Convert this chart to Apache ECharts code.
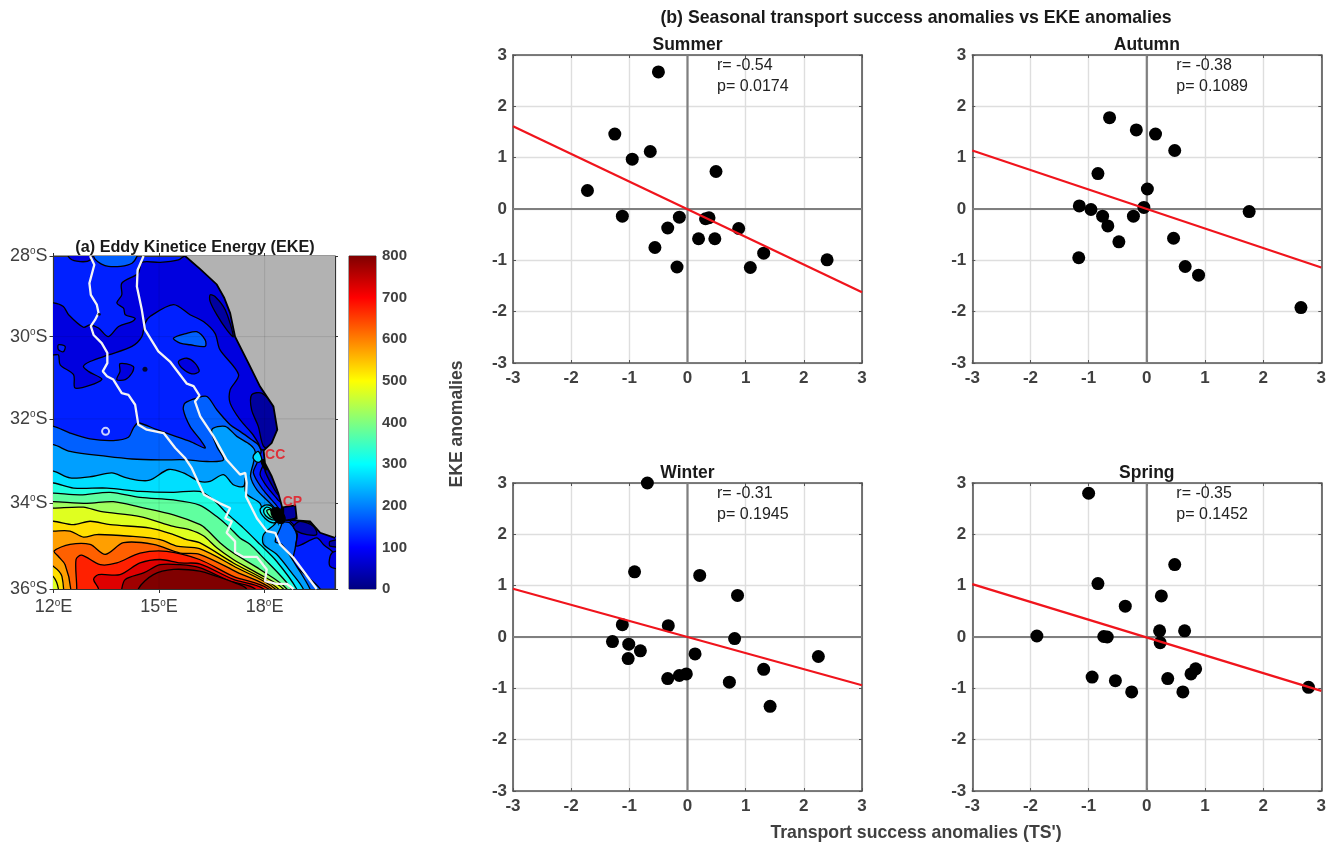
<!DOCTYPE html>
<html><head><meta charset="utf-8"><style>html,body{margin:0;padding:0;background:#fff}#c{width:1332px;height:845px}</style>
<script src="https://cdn.jsdelivr.net/npm/echarts@6/dist/echarts.min.js"></script></head><body><div id="c"></div>
<script>
// ---------- scatter data (x = TS', y = EKE anomalies)
const summerX=[-0.50,-1.25,-0.95,-0.64,-1.72,0.49,-1.12,-0.14,-0.34,-0.56,-0.18,0.19,0.47,0.31,0.37,0.88,1.31,1.08,2.40];
const summerY=[2.67,1.46,0.97,1.12,0.36,0.73,-0.14,-0.16,-0.37,-0.75,-1.13,-0.58,-0.58,-0.19,-0.17,-0.38,-0.86,-1.14,-0.99];
const autumnX=[-0.64,-0.18,0.15,0.48,-0.84,0.01,-1.16,-0.96,-0.05,-0.76,-0.67,-0.23,-0.48,-1.17,0.46,0.66,0.89,1.76,2.65];
const autumnY=[1.78,1.54,1.46,1.14,0.69,0.39,0.06,-0.01,0.03,-0.14,-0.33,-0.14,-0.64,-0.95,-0.57,-1.12,-1.29,-0.05,-1.92];
const winterX=[-0.69,-0.91,0.21,0.86,-1.12,-0.33,0.81,-1.29,-1.01,-0.81,-1.02,0.13,-0.02,-0.14,-0.34,0.72,1.31,1.42,2.25];
const winterY=[3.0,1.27,1.20,0.81,0.24,0.22,-0.03,-0.09,-0.14,-0.27,-0.42,-0.33,-0.72,-0.75,-0.81,-0.88,-0.63,-1.35,-0.38];
const springX=[-1.00,0.48,-0.84,0.25,-0.37,0.22,0.65,-1.89,-0.74,-0.68,0.23,0.84,0.76,0.36,0.62,-0.94,-0.54,-0.26,2.78];
const springY=[2.80,1.41,1.04,0.80,0.60,0.12,0.12,0.02,0.01,0.0,-0.11,-0.62,-0.72,-0.81,-1.07,-0.78,-0.85,-1.07,-0.98];
const fitEnds={Summer:[1.61,-1.62],Autumn:[1.14,-1.14],Winter:[0.94,-0.94],Spring:[1.03,-1.05]};
const stats={Summer:['r= -0.54','p= 0.0174'],Autumn:['r= -0.38','p= 0.1089'],Winter:['r= -0.31','p= 0.1945'],Spring:['r= -0.35','p= 0.1452']};
const anomalyTicks=[-3,-2,-1,0,1,2,3];
// ---------- map contours as [lon E, lat S]; each level polygon encloses EKE above the level
const lvl150=[[12,32.18],[12.47,32.34],[13.04,32.48],[13.70,32.52],[14.13,32.44],[14.27,32.22],[14.41,32.10],[14.94,32.26],[15.41,32.40],[15.88,32.54],[16.31,32.70],[16.17,32.50],[15.88,32.18],[15.69,31.78],[15.74,31.62],[16.07,31.50],[16.36,31.46],[16.64,31.78],[17.02,32.14],[17.30,32.30],[17.63,32.50],[17.82,32.62],[17.90,32.78],[17.78,33.06],[17.68,33.29],[17.92,33.65],[18.20,33.93],[18.39,34.12],[18.53,34.43],[18.72,34.47],[18.91,34.74],[18.87,35.05],[18.82,35.40],[19.58,36]];
const lvl200=[[12,32.62],[12.47,32.78],[13.52,32.90],[14.23,32.96],[15.03,32.98],[15.79,32.98],[16.36,33.02],[16.83,32.98],[16.64,32.66],[16.50,32.26],[16.88,32.18],[17.21,32.42],[17.59,32.62],[17.73,32.78],[17.68,33.06],[17.60,33.37],[17.78,33.69],[18.16,34.01],[18.39,34.24],[18.49,34.47],[18.30,34.90],[18.49,34.97],[18.91,35.48],[19.29,36]];
const lvl250=[[12,33.25],[12.47,33.41],[13.14,33.37],[13.66,33.29],[14.08,33.41],[14.70,33.47],[15.27,33.21],[15.69,33.29],[16.15,33.49],[16.45,33.49],[16.83,33.33],[17.11,33.57],[17.40,33.61],[17.45,33.41],[17.47,33.77],[17.87,34.01],[17.97,34.24],[18.34,34.43],[17.97,34.74],[17.97,34.97],[18.34,35.20],[18.77,35.63],[19.10,36]];
const lvl300=[[12,33.53],[12.57,33.65],[13.52,33.65],[14.46,33.73],[15.41,33.75],[16.15,33.73],[16.55,33.93],[16.92,34.24],[17.40,34.59],[17.87,34.97],[18.34,35.36],[18.91,36]];
const lvl350=[[12,33.77],[12.76,33.81],[13.61,33.75],[14.46,33.87],[15.41,33.93],[16.15,34.05],[16.64,34.32],[17.02,34.59],[17.30,34.82],[17.59,34.97],[17.87,35.20],[18.77,36]];
const lvl400=[[12,33.97],[12.95,34.01],[13.70,33.97],[14.46,34.10],[15.41,34.28],[16.17,34.51],[16.36,34.63],[16.73,34.93],[17.11,35.17],[17.87,35.55],[18.63,36]];
const lvl450=[[12,34.12],[12.85,34.10],[13.33,34.20],[14.46,34.32],[15.41,34.55],[15.88,34.63],[16.26,34.77],[16.64,35.05],[17.11,35.32],[17.78,35.63],[18.53,36]];
const lvl500=[[12,34.43],[12.57,34.51],[13.04,34.43],[13.61,34.51],[14.75,34.59],[15.41,34.74],[15.79,34.86],[16.15,34.93],[17.11,35.40],[18.39,36]];
const lvl550=[[12,34.66],[12.47,34.66],[12.85,34.80],[13.23,34.74],[14.18,34.78],[15.03,34.86],[15.50,35.01],[16.15,35.07],[17.21,35.51],[18.30,36]];
const lvl600=[[12.49,36],[12.33,35.44],[12.14,35.25],[12.02,35.12],[12.47,34.97],[13.04,34.97],[13.47,35.20],[13.99,34.93],[14.84,34.97],[15.60,35.17],[16.15,35.20],[17.21,35.61],[18.20,36]];
const lvl650=[[12.66,36],[12.64,35.32],[12.80,35.22],[13.33,35.44],[13.80,35.40],[14.46,35.17],[15.22,35.13],[16.15,35.32],[17.11,35.71],[18.11,36]];
const lvl700=[[13.28,36],[13.14,35.78],[13.28,35.67],[13.89,35.67],[14.46,35.40],[15.03,35.32],[15.60,35.40],[16.15,35.42],[17.11,35.78],[17.97,36]];
const lvl750=[[13.94,36],[14.04,35.78],[14.56,35.63],[15.03,35.44],[15.60,35.44],[16.15,35.51],[17.02,35.82],[17.73,36]];
const lvl800=[[14.41,36],[14.84,35.67],[15.41,35.55],[16.15,35.59],[16.64,35.71],[17.16,35.86],[17.49,36]];
const cornerA=[[11.8,35.45],[12,35.48],[12.24,35.71],[12.24,36.4],[11.8,36.4]];
const cornerB=[[11.8,35.68],[12,35.72],[12.14,36],[12.14,36.4],[11.8,36.4]];
const low100=[[12,29.17],[12.28,29.26],[12.43,29.46],[12.85,29.77],[13.04,29.71],[13.28,29.79],[13.56,30.0],[13.85,29.75],[14.23,29.63],[14.32,29.55],[14.04,29.46],[13.99,29.30],[13.80,29.17],[13.94,28.97],[13.94,28.68],[14.41,28.43],[14.51,28.16],[15.03,28.16],[15.55,28.10],[15.74,28],[18.06,28],[19,32.74],[17.92,32.74],[17.82,32.58],[17.63,32.34],[17.30,32.02],[17.02,31.62],[17.02,31.30],[17.26,30.93],[16.73,30.32],[16.59,29.92],[16.26,29.63],[15.88,29.46],[15.41,29.21],[14.75,29.50],[14.60,29.67],[14.51,30.0],[14.23,30.24],[13.56,30.45],[13.04,30.61],[12.85,30.73],[12.99,30.85],[13.37,31.05],[12.62,31.26],[12.57,30.93],[12.19,30.69],[12.14,30.45],[12,30.45],[11.6,30.45],[11.6,29.17]];
const low100Blob1=[[15.55,30.61],[15.79,30.53],[16.02,30.65],[16.14,30.85],[15.93,30.91],[15.65,30.77]];
const low100Blob2=[[13.89,30.66],[14.27,30.73],[14.23,30.89],[14.04,31.05],[13.80,31.05],[13.89,30.85]];
const low100Top=[[12.43,28.02],[12.66,28.13],[13.04,28.10],[13.1,27.8],[12.4,27.8]];
const low100Shore=[[17.92,33.18],[17.87,33.33],[18.06,33.61],[18.30,33.85],[18.44,33.97],[18.49,33.77],[18.20,33.29],[18.01,33.06]];
const low100East=[[18.91,35.01],[19.48,34.82],[19.67,34.97],[19.86,35.09],[20,35.17],[20.3,35.2],[20.3,34.75],[20,34.78],[19.58,34.63],[19.20,34.43],[18.72,34.41],[18.82,34.51],[18.93,34.74]];
const low100Edge=[[19.91,35.17],[20.3,35.13],[20.3,35.51],[19.86,35.48]];
const low50Upper=[[16.45,28.97],[16.59,29.01],[16.88,29.34],[17.11,30.0],[16.92,29.83],[16.64,29.46],[16.45,29.13]];
const low50CC=[[17.63,31.42],[17.92,31.38],[18.25,31.70],[18.36,32.26],[18.20,32.70],[17.97,32.66],[17.82,32.18],[17.63,31.78]];
const low50Shore=[[18.01,33.24],[18.20,33.57],[18.39,33.81],[18.42,33.65],[18.20,33.33],[18.06,33.18]];
const low50Bay=[[18.49,34.10],[18.87,34.06],[18.89,34.34],[18.63,34.41],[18.49,34.32]];
const low50East=[[18.82,34.55],[19.01,34.43],[19.39,34.55],[19.48,34.74],[19.20,34.74],[18.91,34.66]];
const low50Edge=[[19.86,34.90],[20.3,34.86],[20.3,35.01],[19.86,35.01]];
const islandLeft=[[12.14,30.20],[12.33,30.24],[12.28,30.37],[12.14,30.32]];
const blobTop=[[13.15,27.8],[14.4,27.8],[14.23,28.18],[13.56,28.26],[13.18,28.08]];
const blobMid=[[15.41,30.04],[15.79,29.92],[16.07,29.88],[16.31,30.08],[16.31,30.24],[15.88,30.20],[15.60,30.16]];
const eddyCC=[[17.68,32.88],[17.82,32.78],[17.92,32.98],[17.82,33.04],[17.70,32.98]];
const eddyCPouter=[[17.87,34.16],[18.01,34.05],[18.20,34.08],[18.39,34.39],[18.25,34.47],[18.01,34.36]];
const eddyCPmid=[[17.97,34.18],[18.06,34.10],[18.20,34.16],[18.32,34.38],[18.20,34.39],[18.03,34.30]];
const eddyCPinner=[[18.06,34.18],[18.16,34.16],[18.27,34.36],[18.16,34.32]];
const blackTip=[[18.20,34.15],[18.39,34.12],[18.58,34.34],[18.53,34.47],[18.36,34.46],[18.20,34.28]];
const blackCC=[[17.90,33.0],[18.01,32.98],[18.13,33.18],[18.01,33.21]];
const coast=[[15.74,28],[16.17,28.33],[16.64,28.71],[16.85,29.04],[17.02,29.42],[17.16,30.0],[17.54,30.65],[17.87,31.22],[18.25,31.70],[18.36,32.26],[18.20,32.58],[17.97,32.76],[18.01,33.06],[18.20,33.37],[18.39,33.77],[18.49,34.08],[18.50,34.22],[18.44,34.42],[18.53,34.30],[18.53,34.10],[18.87,34.06],[18.91,34.36],[18.68,34.40],[19.29,34.43],[19.58,34.70],[20,34.82]];
const landCorners=[[20,28]];
const whiteWest=[[13.04,28],[13.16,28.22],[13.02,28.68],[13.06,28.97],[13.23,29.21],[13.28,29.42],[13.18,29.59],[13.06,29.74],[13.14,29.96],[13.37,30.16],[13.53,30.40],[13.53,30.65],[13.40,30.85],[13.52,30.97],[13.70,31.05],[13.94,31.38],[14.13,31.42],[14.32,31.66],[14.41,32.14],[14.65,32.26],[15.13,32.34],[15.46,32.70],[15.74,32.94],[15.93,33.18],[16.28,33.81],[16.73,34.01],[17.02,34.12],[16.88,34.36],[17.07,34.43],[16.92,34.70],[17.16,34.90],[17.16,35.15],[17.40,35.26],[17.78,35.26],[18.06,35.55],[18.01,35.82],[18.34,35.88],[18.63,35.88],[18.82,36]];
const whiteEast=[[14.56,28],[14.39,28.35],[14.37,28.76],[14.51,29.34],[14.60,29.83],[14.98,30.36],[15.31,30.61],[15.79,31.15],[15.98,31.21],[16.15,31.44],[16.02,31.58],[16.17,31.94],[16.55,32.42],[16.92,32.98],[17.30,33.33],[17.45,33.29],[17.49,33.53],[17.47,33.85],[17.78,34.36],[18.06,34.66],[18.30,34.70],[18.44,34.97],[18.82,35.28],[19.48,36]];
const blackDots=[[14.6,30.8,5],[13.3,29.45,3]];
const whiteRing=[[13.48,32.3]];
const placeNames=[['CC',18.30,32.88],['CP',18.79,33.98]];
const lonTicks=[12,15,18];
const latTicks=[28,30,32,34,36];
const mapBounds={west:12,east:20,north:28,south:36};
const eke=[0,100,200,300,400,500,600,700,800];
// jet band colours, named by lower contour value
const b0='#00009f',b50='#0000df',b100='#0020ff',b150='#0060ff',b200='#009fff',b250='#00dfff',b300='#20ffdf',b350='#60ff9f',b400='#9fff60',b450='#dfff20',b500='#ffdf00',b550='#ff9f00',b600='#ff6000',b650='#ff2000',b700='#df0000',b750='#9f0000',b800='#800000';
const jetStops=[[0,'#800000'],[0.125,'#ff0000'],[0.375,'#ffff00'],[0.625,'#00ffff'],[0.875,'#0000ff'],[1,'#000080']];

const FONT='"Liberation Sans", Arial, sans-serif';
const INK='#404040';
const merc=lat=>Math.log(Math.tan(Math.PI/4+lat*Math.PI/360));
// carry a contour's two ends beyond the frame and close it there, so the filled area reaches the edges
const below=c=>{const a=c[0],b=c[c.length-1];
 return (a[0]===12?[[11.6,a[1]]]:[[a[0]-0.05,36.5]]).concat(c,[[b[0]+0.2,36.5]],a[0]===12?[[11.6,36.5]]:[]);};
const layers=[
 [below(lvl150),b150],[below(lvl200),b200],[below(lvl250),b250],[below(lvl300),b300],[below(lvl350),b350],[below(lvl400),b400],[below(lvl450),b450],[below(lvl500),b500],[below(lvl550),b550],[cornerA,b500],[cornerB,b450],[below(lvl600),b600],[below(lvl650),b650],[below(lvl700),b700],[below(lvl750),b750],[below(lvl800),b800],
 [low100,b50],[islandLeft,b100],[blobTop,b150],[blobMid,b150],[low100Blob1,b50],[low100Blob2,b50],[low100Top,b50],
 [low100Shore,b50],[low100East,b50],[low100Edge,b50],[low50Upper,b0],[low50CC,b0],[low50Shore,b0],[low50Bay,b0],[low50East,b0],[low50Edge,b0],
 [eddyCC,b250],[eddyCPouter,b250],[eddyCPmid,b300],[eddyCPinner,b350],[blackTip,'#000'],[blackCC,'#000']
];
const toPts=(api,pts)=>pts.map(p=>api.coord([p[0],merc(p[1])]));

const grids=[],xAxes=[],yAxes=[],series=[],titles=[];
// ---- map panel
grids.push({left:53.5,top:256,width:281.5,height:333,show:true,backgroundColor:b100,borderColor:'#333',borderWidth:1});
const mapSide={show:true,lineStyle:{color:'#333',width:1.2}};
const richTick={a:{fontFamily:FONT,fontSize:18,color:INK},o:{fontFamily:FONT,fontSize:10,color:INK,padding:[0,0,9,0]}};
xAxes.push({gridIndex:0,type:'value',min:mapBounds.west,max:mapBounds.east,axisLine:{...mapSide,onZero:false},splitLine:{show:false},
 axisTick:{length:4,lineStyle:{color:'#333'},customValues:lonTicks},
 axisLabel:{customValues:lonTicks,margin:9,formatter:v=>'{a|'+v+'}{o|o}{a|E}',rich:richTick}});
xAxes.push({gridIndex:0,type:'value',position:'top',min:mapBounds.west,max:mapBounds.east,axisLine:{...mapSide,onZero:false},splitLine:{show:false},axisLabel:{show:false},axisTick:{length:3,lineStyle:{color:'#333'},customValues:lonTicks}});
const latVals=latTicks.map(merc);
const latLabel=v=>{let i=latVals.findIndex(t=>Math.abs(t-v)<1e-6);return '{a|'+latTicks[i]+'}{o|o}{a|S}';};
yAxes.push({gridIndex:0,type:'value',inverse:true,min:merc(mapBounds.north),max:merc(mapBounds.south),axisLine:{...mapSide,onZero:false},splitLine:{show:false},
 axisTick:{length:4,lineStyle:{color:'#333'},customValues:latVals},
 axisLabel:{customValues:latVals,margin:6,formatter:latLabel,rich:richTick}});
yAxes.push({gridIndex:0,type:'value',position:'right',inverse:true,min:merc(mapBounds.north),max:merc(mapBounds.south),axisLine:{...mapSide,onZero:false},splitLine:{show:false},axisLabel:{show:false},axisTick:{length:3,lineStyle:{color:'#333'},customValues:latVals}});
series.push({type:'custom',xAxisIndex:0,yAxisIndex:0,clip:true,silent:true,z:2,data:layers.map((l,i)=>[i]),encode:{x:[],y:[]},
 renderItem:(p,api)=>{const l=layers[p.dataIndex];
  return {type:'polygon',shape:{points:toPts(api,l[0]),smooth:0.3},style:{fill:l[1],stroke:'#000',lineWidth:1.3},silent:true};}});
series.push({type:'custom',xAxisIndex:0,yAxisIndex:0,clip:true,silent:true,z:3,data:[[0]],encode:{x:[],y:[]},
 renderItem:(p,api)=>({type:'polygon',shape:{points:toPts(api,coast.concat(landCorners))},style:{fill:'#b2b2b2'},silent:true})});
series.push({type:'custom',xAxisIndex:0,yAxisIndex:0,clip:true,silent:true,z:4,data:[[0]],encode:{x:[],y:[]},
 renderItem:(p,api)=>({type:'polyline',shape:{points:toPts(api,coast)},style:{fill:null,stroke:'#000',lineWidth:1.8},silent:true})});
const lineOn=(pts,color,w,z)=>({type:'line',xAxisIndex:0,yAxisIndex:0,z,silent:true,showSymbol:false,animation:false,clip:true,data:pts.map(p=>[p[0],merc(p[1])]),lineStyle:{color,width:w}});
lonTicks.slice(1).forEach(v=>series.push(lineOn([[v,28],[v,36]],'rgba(0,0,0,0.10)',1,5)));
latTicks.slice(1,4).forEach(v=>series.push(lineOn([[12,v],[20,v]],'rgba(0,0,0,0.10)',1,5)));
series.push(lineOn(whiteWest,'#f4f4f4',2.3,6));
series.push(lineOn(whiteEast,'#f4f4f4',2.3,6));
series.push({type:'scatter',xAxisIndex:0,yAxisIndex:0,z:6,silent:true,symbolSize:d=>d[2],data:blackDots.map(d=>[d[0],merc(d[1]),d[2]]),itemStyle:{color:'#000'}});
series.push({type:'scatter',xAxisIndex:0,yAxisIndex:0,z:6,silent:true,symbolSize:7,data:whiteRing.map(d=>[d[0],merc(d[1])]),itemStyle:{color:'rgba(0,0,0,0)',borderColor:'#fff',borderWidth:2}});
series.push({type:'scatter',xAxisIndex:0,yAxisIndex:0,z:7,silent:true,symbolSize:0,data:placeNames.map(d=>({name:d[0],value:[d[1],merc(d[2])]})),
 label:{show:true,position:'inside',formatter:'{b}',color:'#e8101c',fontFamily:FONT,fontWeight:'bold',fontSize:14}});
// ---- colour bar
grids.push({left:349,top:256,width:27,height:333,show:true,borderColor:'#444',borderWidth:1});
xAxes.push({gridIndex:1,type:'category',data:['EKE'],show:false});
yAxes.push({gridIndex:1,type:'value',position:'right',min:eke[0],max:eke[eke.length-1],interval:100,axisLine:{show:false},axisTick:{show:false},splitLine:{show:false},
 axisLabel:{margin:6,fontFamily:FONT,fontSize:15,fontWeight:'bold',color:INK}});
series.push({type:'bar',xAxisIndex:2,yAxisIndex:2,barWidth:'100%',silent:true,animation:false,data:[eke[eke.length-1]],
 itemStyle:{color:new echarts.graphic.LinearGradient(0,0,0,1,jetStops.map(s=>({offset:s[0],color:s[1]})))}});
// ---- scatter panels
const panels=[['Summer',summerX,summerY,513,55],['Autumn',autumnX,autumnY,972.3,55],['Winter',winterX,winterY,513,483],['Spring',springX,springY,972.3,483]];
const PW=349,PH=308;
panels.forEach(([name,xs,ys,left,top])=>{
 const g=grids.length; grids.push({left,top,width:PW,height:PH});
 const axisL={show:true,onZero:false,lineStyle:{color:'#555',width:1.6}};
 const tick=()=>({show:true,inside:true,length:3,lineStyle:{color:'#555'}});
 const sp={show:true,lineStyle:{color:'#dedede',width:1.4}};
 const lab={fontFamily:FONT,fontSize:17,fontWeight:'bold',color:INK,showMinLabel:true,showMaxLabel:true};
 const xi=xAxes.length, yi=yAxes.length;
 xAxes.push({gridIndex:g,type:'value',min:-3,max:3,interval:1,axisLine:axisL,axisTick:tick(),splitLine:sp,axisLabel:{...lab,margin:7}});
 xAxes.push({gridIndex:g,type:'value',position:'top',min:-3,max:3,interval:1,axisLine:axisL,axisTick:tick(),splitLine:{show:false},axisLabel:{show:false}});
 yAxes.push({gridIndex:g,type:'value',min:-3,max:3,interval:1,axisLine:axisL,axisTick:tick(),splitLine:sp,axisLabel:{...lab,margin:6}});
 yAxes.push({gridIndex:g,type:'value',position:'right',min:-3,max:3,interval:1,axisLine:axisL,axisTick:tick(),splitLine:{show:false},axisLabel:{show:false}});
 const ends=anomalyTicks[0], lastT=anomalyTicks[anomalyTicks.length-1];
 const plain=(data,color,width,z)=>({type:'line',xAxisIndex:xi,yAxisIndex:yi,data,showSymbol:false,silent:true,animation:false,z,lineStyle:{color,width}});
 series.push(plain([[ends,0],[lastT,0]],'#7f7f7f',2.2,2));
 series.push(plain([[0,ends],[0,lastT]],'#7f7f7f',2.2,2));
 series.push({type:'scatter',xAxisIndex:xi,yAxisIndex:yi,clip:false,silent:true,z:3,symbolSize:13,data:xs.map((x,i)=>[x,ys[i]]),itemStyle:{color:'#000',opacity:1}});
 series.push(plain([[ends,fitEnds[name][0]],[lastT,fitEnds[name][1]]],'#f0141c',2.2,4));
 titles.push({text:name,left:left+PW/2,top:top-19,padding:0,textAlign:'center',textStyle:{fontFamily:FONT,fontSize:17.5,fontWeight:'bold',color:'#1a1a1a'}});
 titles.push({text:stats[name][0],left:left+204,top:top+3,padding:0,textStyle:{fontFamily:FONT,fontSize:16,fontWeight:'normal',color:'#222'}});
 titles.push({text:stats[name][1],left:left+204,top:top+24,padding:0,textStyle:{fontFamily:FONT,fontSize:16,fontWeight:'normal',color:'#222'}});
});
titles.push({text:'(b) Seasonal transport success anomalies vs EKE anomalies',left:916,top:9,padding:0,textAlign:'center',textStyle:{fontFamily:FONT,fontSize:17.7,fontWeight:'bold',color:'#1a1a1a'}});
titles.push({text:"Transport success anomalies (TS')",left:916,top:824,padding:0,textAlign:'center',textStyle:{fontFamily:FONT,fontSize:17.7,fontWeight:'bold',color:INK}});
titles.push({text:'(a) Eddy Kinetice Energy (EKE)',left:195,top:240,padding:0,textAlign:'center',textStyle:{fontFamily:FONT,fontSize:16.2,fontWeight:'bold',color:'#1a1a1a'}});

const chart=echarts.init(document.getElementById('c'),null,{renderer:'canvas'});
chart.setOption({animation:false,backgroundColor:'#fff',title:titles,grid:grids,xAxis:xAxes,yAxis:yAxes,series,
 graphic:[{type:'text',rotation:Math.PI/2,x:457,y:424,style:{text:'EKE anomalies',fontFamily:FONT,fontSize:17.6,fontWeight:'bold',fill:INK,textAlign:'center',textVerticalAlign:'middle'}}]});
</script></body></html>
